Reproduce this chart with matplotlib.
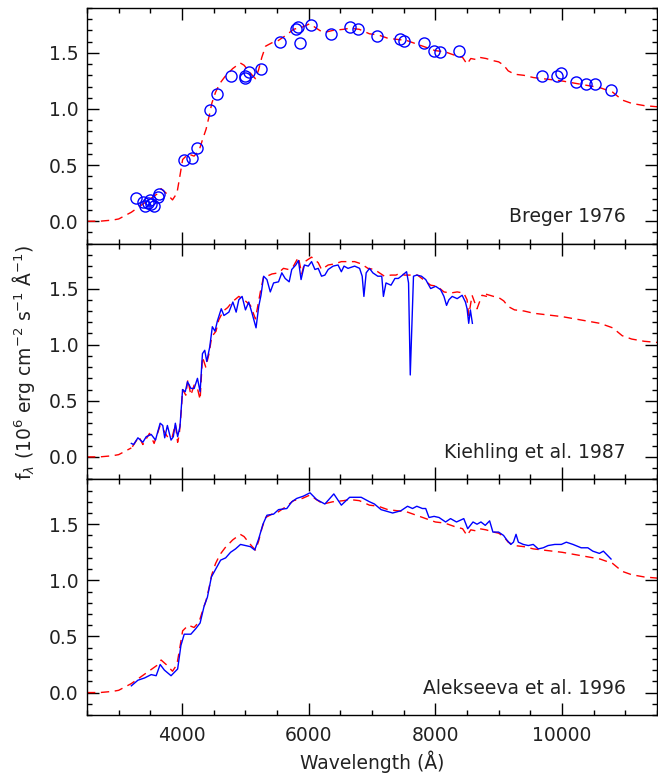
import numpy as np
import matplotlib
matplotlib.use('Agg')
import matplotlib.pyplot as plt
from matplotlib.ticker import MultipleLocator

# model spectrum (low resolution), red dashed in every panel
model_wave = [2500, 2700, 2900, 3000, 3100, 3200, 3300, 3400, 3500, 3600, 3670, 3750,
              3850, 3920, 3960, 4010, 4100, 4190, 4270, 4320, 4380, 4430, 4470, 4530,
              4600, 4680, 4800, 4920, 4980, 5050, 5110, 5160, 5210, 5260, 5320, 5420,
              5520, 5650, 5760, 5900, 6020, 6120, 6230, 6380, 6550, 6650, 6800, 6960,
              7100, 7250, 7400, 7550, 7700, 7850, 8000, 8150, 8300, 8430, 8500, 8560,
              8650, 8700, 8800, 8920, 9000, 9080, 9150, 9250, 9400, 9550, 9700, 9850,
              10000, 10200, 10400, 10600, 10800, 10950, 11100, 11300, 11500]
model_flux = [0.00, 0.00, 0.01, 0.02, 0.05, 0.08, 0.12, 0.16, 0.20, 0.24, 0.29, 0.25,
              0.19, 0.25, 0.38, 0.55, 0.60, 0.58, 0.63, 0.72, 0.82, 0.94, 1.05, 1.15,
              1.23, 1.29, 1.36, 1.41, 1.39, 1.34, 1.30, 1.27, 1.35, 1.46, 1.56, 1.59,
              1.61, 1.66, 1.71, 1.73, 1.76, 1.72, 1.68, 1.70, 1.71, 1.72, 1.71, 1.67,
              1.66, 1.63, 1.62, 1.61, 1.58, 1.55, 1.52, 1.51, 1.48, 1.46, 1.40, 1.45,
              1.44, 1.46, 1.45, 1.43, 1.42, 1.39, 1.34, 1.31, 1.30, 1.28, 1.27, 1.26,
              1.25, 1.23, 1.21, 1.19, 1.15, 1.08, 1.05, 1.03, 1.02]

# Breger 1976 photometry
breger_wave = [3279, 3383, 3419, 3461, 3487, 3514, 3555, 3618, 3633, 4025, 4156, 4244,
               4448, 4558, 4777, 4987, 4995, 5050, 5253, 5545, 5802, 5827, 5869, 6030,
               6360, 6657, 6783, 7080, 7441, 7510, 7828, 7980, 8068, 8381, 9682, 9923,
               9980, 10220, 10371, 10523, 10774]
breger_flux = [0.21, 0.17, 0.14, 0.16, 0.19, 0.15, 0.14, 0.22, 0.24, 0.55, 0.56, 0.65,
               0.99, 1.13, 1.29, 1.28, 1.29, 1.33, 1.36, 1.60, 1.71, 1.73, 1.59, 1.75,
               1.67, 1.73, 1.71, 1.65, 1.62, 1.61, 1.59, 1.52, 1.51, 1.52, 1.29, 1.29,
               1.32, 1.24, 1.22, 1.22, 1.17]

# Kiehling et al. 1987 spectrum
kie_wave = [3200, 3236, 3304, 3382, 3435, 3514, 3581, 3655, 3696, 3727, 3769, 3827,
            3863, 3895, 3931, 3968, 4009, 4051, 4087, 4140, 4192, 4244, 4286, 4323,
            4359, 4391, 4438, 4479, 4521, 4558, 4620, 4662, 4740, 4803, 4855, 4897,
            4949, 5002, 5054, 5106, 5169, 5211, 5247, 5289, 5341, 5394, 5446, 5524,
            5576, 5629, 5692, 5733, 5796, 5838, 5880, 5932, 5994, 6046, 6099, 6151,
            6203, 6256, 6308, 6386, 6464, 6516, 6558, 6621, 6726, 6804, 6845, 6872,
            6908, 6961, 7013, 7091, 7154, 7180, 7221, 7300, 7362, 7415, 7483, 7546,
            7577, 7604, 7629, 7655, 7707, 7781, 7848, 7926, 8005, 8083, 8136, 8177,
            8214, 8266, 8345, 8423, 8475, 8501, 8527, 8553, 8585]
kie_flux = [0.12, 0.11, 0.17, 0.13, 0.18, 0.20, 0.15, 0.30, 0.28, 0.17, 0.28, 0.15,
            0.18, 0.30, 0.18, 0.27, 0.60, 0.58, 0.67, 0.61, 0.61, 0.70, 0.58, 0.92,
            0.95, 0.85, 0.98, 1.16, 1.12, 1.21, 1.32, 1.26, 1.29, 1.38, 1.29, 1.40,
            1.43, 1.31, 1.38, 1.28, 1.15, 1.34, 1.44, 1.61, 1.58, 1.47, 1.55, 1.56,
            1.64, 1.59, 1.56, 1.67, 1.71, 1.75, 1.58, 1.71, 1.70, 1.74, 1.67, 1.68,
            1.61, 1.62, 1.67, 1.70, 1.71, 1.65, 1.70, 1.68, 1.70, 1.68, 1.61, 1.43,
            1.64, 1.68, 1.64, 1.61, 1.61, 1.43, 1.55, 1.53, 1.59, 1.59, 1.62, 1.65,
            1.55, 0.73, 1.16, 1.61, 1.62, 1.61, 1.58, 1.50, 1.52, 1.49, 1.43, 1.35,
            1.40, 1.43, 1.41, 1.44, 1.38, 1.32, 1.19, 1.31, 1.19]

# model at Kiehling resolution
kmod_wave = [3216, 3320, 3382, 3487, 3560, 3655, 3706, 3780, 3842, 3895, 3931, 3957,
             3990, 4009, 4060, 4092, 4140, 4192, 4244, 4286, 4323, 4375, 4427, 4469,
             4537, 4580, 4652, 4720, 4792, 4897, 4980, 5080, 5159, 5237, 5290, 5341,
             5420, 5524, 5602, 5681, 5760, 5838, 5890, 5940, 6046, 6151, 6203, 6308,
             6412, 6516, 6621, 6726, 6830, 6935, 7039, 7117, 7196, 7300, 7378, 7457,
             7509, 7718, 7926, 8030, 8136, 8240, 8345, 8449, 8501, 8527, 8580, 8658,
             8736, 8815]
kmod_flux = [0.09, 0.18, 0.11, 0.21, 0.12, 0.28, 0.24, 0.17, 0.17, 0.29, 0.13, 0.20,
             0.42, 0.60, 0.55, 0.69, 0.55, 0.64, 0.61, 0.51, 0.89, 0.80, 0.92, 1.07,
             1.12, 1.22, 1.30, 1.33, 1.38, 1.43, 1.40, 1.35, 1.23, 1.47, 1.61, 1.61,
             1.63, 1.64, 1.68, 1.67, 1.70, 1.78, 1.63, 1.74, 1.78, 1.73, 1.67, 1.71,
             1.72, 1.74, 1.74, 1.74, 1.72, 1.68, 1.67, 1.64, 1.61, 1.62, 1.62, 1.64,
             1.62, 1.62, 1.53, 1.52, 1.47, 1.46, 1.47, 1.46, 1.40, 1.26, 1.44, 1.32,
             1.44, 1.43]

# Alekseeva et al. 1996 spectrum
ale_wave = [3200, 3304, 3409, 3514, 3592, 3655, 3722, 3827, 3931, 3983, 4035, 4140,
            4218, 4286, 4349, 4401, 4464, 4532, 4610, 4689, 4767, 4845, 4924, 5002,
            5081, 5148, 5211, 5278, 5341, 5446, 5524, 5655, 5733, 5812, 5916, 6021,
            6125, 6256, 6397, 6516, 6647, 6829, 6961, 7039, 7143, 7326, 7456, 7561,
            7640, 7707, 7796, 7848, 7900, 7980, 8058, 8162, 8240, 8334, 8449, 8511,
            8595, 8658, 8720, 8788, 8857, 8909, 8998, 9077, 9128, 9191, 9233, 9274,
            9311, 9389, 9468, 9546, 9625, 9703, 9781, 9886, 9990, 10068, 10173, 10303,
            10408, 10486, 10590, 10653, 10705, 10774]
ale_flux = [0.06, 0.11, 0.13, 0.16, 0.15, 0.25, 0.20, 0.15, 0.21, 0.42, 0.52, 0.52,
            0.57, 0.62, 0.77, 0.85, 1.03, 1.10, 1.18, 1.20, 1.25, 1.28, 1.32, 1.31,
            1.30, 1.27, 1.37, 1.50, 1.58, 1.59, 1.63, 1.64, 1.70, 1.73, 1.75, 1.78,
            1.72, 1.68, 1.77, 1.67, 1.74, 1.74, 1.70, 1.68, 1.63, 1.60, 1.62, 1.66,
            1.64, 1.66, 1.64, 1.64, 1.56, 1.57, 1.56, 1.52, 1.55, 1.52, 1.55, 1.46,
            1.52, 1.50, 1.52, 1.49, 1.53, 1.43, 1.43, 1.40, 1.36, 1.32, 1.34, 1.41,
            1.34, 1.32, 1.31, 1.32, 1.28, 1.29, 1.31, 1.32, 1.32, 1.34, 1.32, 1.29,
            1.29, 1.26, 1.24, 1.26, 1.23, 1.19]

labels = ['Breger 1976', 'Kiehling et al. 1987', 'Alekseeva et al. 1996']

plt.rcParams['font.family'] = 'DejaVu Sans'
plt.rcParams['mathtext.fontset'] = 'dejavusans'

fig, axes = plt.subplots(3, 1, sharex=True, figsize=(6.58, 7.79), dpi=100)
fig.subplots_adjust(left=87/658, right=0.9985, top=1-8/779, bottom=1-715/779, hspace=0)

dash = (0, (6, 4))
mw = np.array(model_wave)
mf = np.array(model_flux)

ax = axes[0]
ax.plot(mw, mf, color='red', lw=1.0, linestyle=dash)
ax.plot(breger_wave, breger_flux, 'o', mfc='none', mec='blue', ms=8, mew=1.0)

ax = axes[1]
lo = mw <= 3220
hi = mw >= 8800
ax.plot(mw[lo], mf[lo], color='red', lw=1.0, linestyle=dash)
ax.plot(kmod_wave, kmod_flux, color='red', lw=1.0, linestyle=dash)
ax.plot(mw[hi], mf[hi], color='red', lw=1.0, linestyle=dash)
ax.plot(kie_wave, kie_flux, color='blue', lw=1.0)

ax = axes[2]
ax.plot(mw, mf, color='red', lw=1.0, linestyle=dash)
ax.plot(ale_wave, ale_flux, color='blue', lw=1.0)

for ax, lab in zip(axes, labels):
    ax.set_xlim(2500, 11500)
    ax.set_ylim(-0.2, 1.9)
    ax.xaxis.set_major_locator(MultipleLocator(2000))
    ax.xaxis.set_minor_locator(MultipleLocator(500))
    ax.yaxis.set_major_locator(MultipleLocator(0.5))
    ax.yaxis.set_minor_locator(MultipleLocator(0.1))
    ax.set_yticks([0.0, 0.5, 1.0, 1.5])
    ax.set_yticklabels(['0.0', '0.5', '1.0', '1.5'])
    ax.tick_params(which='both', direction='in', top=True, right=True,
                   labelsize=13.5, colors='black', labelcolor='#222222')
    ax.tick_params(which='major', length=8.5, width=1)
    ax.tick_params(which='minor', length=3.8, width=1)
    ax.tick_params(axis='y', pad=6)
    for s in ax.spines.values():
        s.set_linewidth(1.0)
    ax.text(0.945, 0.09, lab, transform=ax.transAxes, ha='right', va='baseline',
            fontsize=13.5, color='#222222')

axes[2].set_xticks([4000, 6000, 8000, 10000])
axes[2].set_xticklabels(['4000', '6000', '8000', '10000'])
axes[2].tick_params(axis='x', pad=8)
axes[2].set_xlabel('Wavelength (Å)', fontsize=13.5, color='#222222', labelpad=4)
fig.text(0.035, 1 - 362/779, r'f$_\lambda$ (10$^6$ erg cm$^{-2}$ s$^{-1}$ Å$^{-1}$)',
         rotation=90, ha='center', va='center', fontsize=13.5, color='#222222')

plt.savefig('out.png', dpi=100)
